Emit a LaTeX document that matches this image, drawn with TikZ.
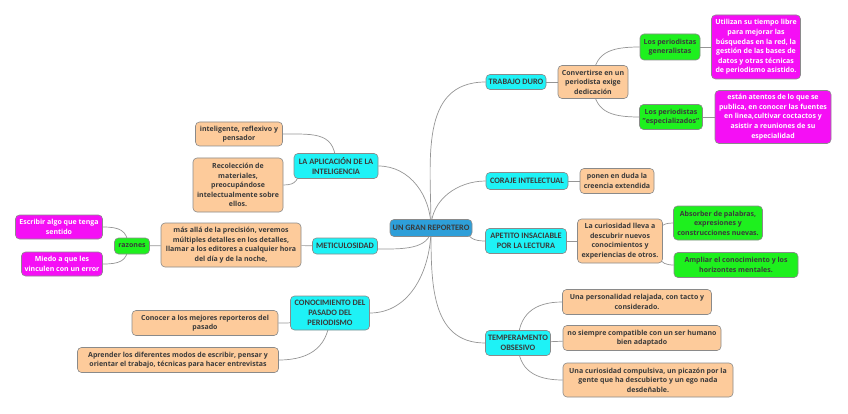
\documentclass[tikz,border=0pt]{standalone}
\usepackage{fontspec}
\setmainfont{Open Sans}
\newfontfamily\cfont{Carlito}
\usetikzlibrary{backgrounds}
\definecolor{cyanbox}{HTML}{1EF2F6}
\definecolor{rootbox}{HTML}{2E9FD9}
\definecolor{peachbox}{HTML}{FDCB9B}
\definecolor{greenbox}{HTML}{1EF01E}
\definecolor{magbox}{HTML}{F50FF5}
\definecolor{txt}{HTML}{3A3A3A}
\definecolor{edgec}{HTML}{959595}
\definecolor{borderc}{HTML}{8A8A8A}
\tikzset{
  box/.style={draw=borderc, line width=0.6pt, rounded corners=4pt, align=center, inner sep=1pt, text=txt, font=\fontsize{7}{9.6}\selectfont\bfseries},
  cy/.style={box, fill=cyanbox, font=\cfont\fontsize{8.3}{10}\selectfont\bfseries},
  rt/.style={box, fill=rootbox, font=\cfont\fontsize{8.3}{10}\selectfont\bfseries},
  pe/.style={box, fill=peachbox},
  gr/.style={box, fill=greenbox},
  mg/.style={box, fill=magbox, text=white},
  sz/.style 2 args={minimum width=#1pt, minimum height=#2pt},
  con/.style={draw=edgec, line width=0.7pt}
}
\begin{document}
\begin{tikzpicture}[x=1pt,y=-1pt]
\useasboundingbox (0,0) rectangle (848,414);
% root
\node[rt, sz={82}{17}] (root) at (431,228) {UN GRAN REPORTERO};
% right side
\node[cy, sz={60}{15}] (trabajo) at (516,82) {TRABAJO DURO};
\node[pe, sz={70}{33}] (convertir) at (593,82) {Convertirse en un\\periodista exige\\dedicación};
\node[gr, sz={60}{26}] (gen) at (670,47) {Los periodistas\\generalistas};
\node[mg, sz={89}{64}] (util) at (756,47) {Utilizan su tiempo libre\\para mejorar las\\búsquedas en la red, la\\gestión de las bases de\\datos y otras técnicas\\de periodismo asistido.};
\node[gr, sz={63}{25}] (esp) at (671,117) {Los periodistas\\"especializados"};
\node[mg, sz={116}{53}] (estan) at (773,117) {están atentos de lo que se\\publica, en conocer las fuentes\\en linea,cultivar coctactos y\\asistir a reuniones de su\\especialidad};
\node[cy, sz={82}{17}] (coraje) at (527,181) {CORAJE INTELECTUAL};
\node[pe, sz={74}{25}] (ponen) at (617,181) {ponen en duda la\\creencia extendida};
\node[cy, sz={81}{25}] (apetito) at (526,241) {APETITO INSACIABLE\\POR LA LECTURA};
\node[pe, sz={85}{44}] (curios) at (620,241) {La curiosidad lleva a\\descubrir nuevos\\conocimientos y\\experiencias de otros.};
\node[gr, sz={89}{34}] (absorber) at (718,223) {Absorber de palabras,\\expresiones y\\construcciones nuevas.};
\node[gr, sz={124}{25}] (ampliar) at (736,265) {Ampliar el conocimiento y los\\horizontes mentales.};
\node[cy, sz={65}{25}] (temper) at (518,343) {TEMPERAMENTO\\OBSESIVO};
\node[pe, sz={149}{25}] (pers) at (637,302) {Una personalidad relajada, con tacto y\\considerado.};
\node[pe, sz={158}{25}] (nosiempre) at (642,338) {no siempre compatible con un ser humano\\bien adaptado};
\node[pe, sz={170}{34}] (compuls) at (648,380) {Una curiosidad compulsiva, un picazón por la\\gente que ha descubierto y un ego nada\\desdeñable.};
% left side
\node[cy, sz={84}{25}] (aplic) at (336,166) {LA APLICACIÓN DE LA\\INTELIGENCIA};
\node[pe, sz={87}{24}] (intelig) at (239,134) {inteligente, reflexivo y\\pensador};
\node[pe, sz={90}{54}] (recol) at (238,185) {Recolección de\\materiales,\\preocupándose\\intelectualmente sobre\\ellos.};
\node[cy, sz={65}{16}] (metic) at (345,246) {METICULOSIDAD};
\node[pe, sz={140}{44}] (masalla) at (231,245) {más allá de la precisión, veremos\\múltiples detalles en los detalles,\\llamar a los editores a cualquier hora\\del día y de la noche,};
\node[gr, sz={35}{16}] (razones) at (132,246) {razones};
\node[mg, sz={87}{24}] (escribir) at (59,227) {Escribir algo que tenga\\sentido};
\node[mg, sz={81}{24}] (miedo) at (62,264) {Miedo a que les\\vinculen con un error};
\node[cy, sz={79}{34}] (conoc) at (330,313) {CONOCIMIENTO DEL\\PASADO DEL\\PERIODISMO};
\node[pe, sz={146}{25}] (conocer) at (205,323) {Conocer a los mejores reporteros del\\pasado};
\node[pe, sz={201}{25}] (aprender) at (178,360) {Aprender los diferentes modos de escribir, pensar y\\orientar el trabajo, técnicas para hacer entrevistas};
% connectors
\begin{scope}[on background layer]
\draw[con] (root.center) to[out=90,in=180,looseness=1.1] (trabajo.west);
\draw[con] (root.center) to[out=90,in=180] (coraje.west);
\draw[con] ([xshift=36pt]root.center) to[out=270,in=180,looseness=1.2] (apetito.west);
\draw[con] (root.center) to[out=270,in=180,looseness=1.1] (temper.west);
\draw[con] (root.center) to[out=90,in=0] (aplic.east);
\draw[con] (root.center) to[out=270,in=0] ([yshift=-3pt]metic.east);
\draw[con] (root.center) to[out=270,in=0] (conoc.east);
\draw[con] (trabajo) -- (convertir);
\draw[con] (convertir.center) to[out=90,in=180,looseness=1.3] (gen.west);
\draw[con] (convertir.center) to[out=270,in=180,looseness=1.3] (esp.west);
\draw[con] (gen) -- (util);
\draw[con] (esp) -- (estan);
\draw[con] (coraje) -- (ponen);
\draw[con] (apetito) -- (curios);
\draw[con] ([xshift=38pt]curios.center) to[out=90,in=180,looseness=1.4] (absorber.west);
\draw[con] ([xshift=38pt]curios.center) to[out=270,in=180,looseness=1.4] (ampliar.west);
\draw[con] (temper.center) to[out=90,in=180,looseness=1.2] (pers.west);
\draw[con] (temper) -- (nosiempre);
\draw[con] (temper.center) to[out=270,in=180,looseness=1.2] (compuls.west);
\draw[con] (aplic.center) to[out=90,in=0,looseness=1.4] (intelig.east);
\draw[con] ([xshift=-37pt]aplic.center) to[out=270,in=0,looseness=1.4] (recol.east);
\draw[con] (metic) -- (masalla);
\draw[con] (masalla) -- (razones);
\draw[con] ([xshift=-4pt]razones.center) to[out=90,in=0,looseness=1.3] (escribir.east);
\draw[con] ([xshift=-4pt]razones.center) to[out=270,in=0,looseness=1.3] (miedo.east);
\draw[con] ([xshift=-30pt]conoc.center) to[out=270,in=0,looseness=1.2] (conocer.east);
\draw[con] (conoc.center) to[out=270,in=0,looseness=1.2] (aprender.east);
\end{scope}
\end{tikzpicture}
\end{document}
